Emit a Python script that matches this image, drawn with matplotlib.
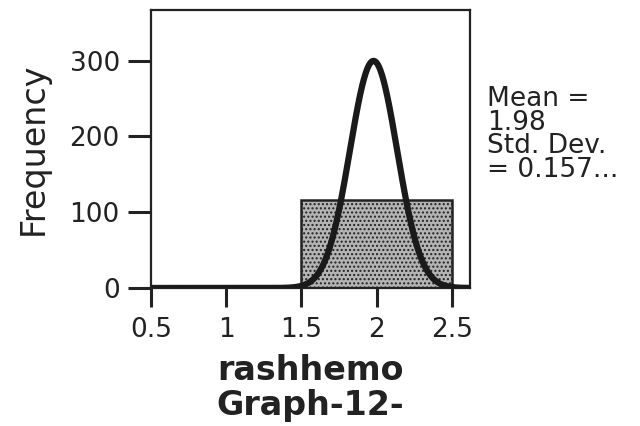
import numpy as np
import matplotlib
matplotlib.use("Agg")
import matplotlib.pyplot as plt

# histogram (one bin) and fitted normal curve stats
bin_edges = [1.5, 2.5]
counts = [116]
mean = 1.98
std_dev = 0.157
n_cases = 118

x_ticks = [0.5, 1, 1.5, 2, 2.5]
x_tick_labels = ["0.5", "1", "1.5", "2", "2.5"]
y_ticks = [0, 100, 200, 300]


def main():
    plt.rcParams['font.family'] = ['DejaVu Sans']
    plt.rcParams['hatch.color'] = '#3a3a3a'
    fig = plt.figure(figsize=(6.4, 4.26), dpi=100)
    ax = fig.add_axes([0.236, 0.324, 0.498, 0.6525])

    # histogram bar
    widths = np.diff(bin_edges)
    ax.bar(bin_edges[:-1], counts, width=widths, align='edge',
           facecolor='#b4b4b4', edgecolor='#222222', linewidth=1.8,
           hatch='....', zorder=2)

    # normal curve scaled to counts
    xs = np.linspace(0.5, 2.62, 600)
    bw = widths[0]
    ys = n_cases * bw / (std_dev * np.sqrt(2 * np.pi)) * np.exp(-0.5 * ((xs - mean) / std_dev) ** 2)
    ax.plot(xs, ys, color='#1a1a1a', linewidth=4.5, solid_capstyle='butt', zorder=3)

    ax.set_xlim(0.5, 2.62)
    ax.set_ylim(0, 367)
    ax.set_xticks(x_ticks)
    ax.set_xticklabels(x_tick_labels)
    ax.set_yticks(y_ticks)

    for s in ax.spines.values():
        s.set_linewidth(1.6)
        s.set_color('#222222')
    ax.tick_params(axis='x', direction='out', length=14, width=2.2, pad=7,
                   labelsize=19, colors='#222222')
    ax.tick_params(axis='y', direction='out', length=16.5, width=2.2, pad=6,
                   labelsize=19, colors='#222222')

    ax.set_ylabel("Frequency", fontsize=24, color='#222222', labelpad=14)
    ax.set_xlabel("rashhemo\nGraph-12-", fontsize=24, fontweight='bold',
                  color='#222222', labelpad=8, linespacing=1.05)

    fig.text(0.761, 0.798, "Mean =\n1.98\nStd. Dev.\n= 0.157...", fontsize=19,
             color='#222222', va='top', ha='left', linespacing=0.88)

    fig.savefig("out.png", dpi=100)


if __name__ == '__main__':
    main()
